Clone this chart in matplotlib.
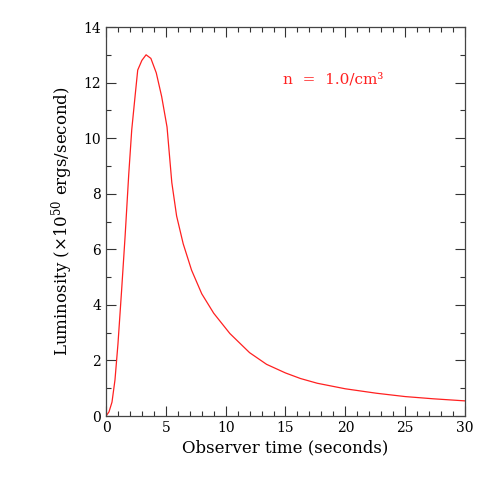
import matplotlib
matplotlib.use("Agg")
import matplotlib.pyplot as plt
from matplotlib.ticker import MultipleLocator

time_s = [0, 0.25, 0.5, 0.75, 1.0, 1.3, 1.6, 1.9, 2.15, 2.45, 2.65, 3.0, 3.35, 3.75,
          4.2, 4.65, 5.1, 5.5, 5.9, 6.45, 7.15, 8.0, 9.0, 10.35, 12.0, 13.42,
          15.0, 16.25, 17.65, 20.0, 22.6, 25.0, 27.35, 30.0]
luminosity = [0, 0.15, 0.5, 1.3, 2.6, 4.5, 6.5, 8.7, 10.3, 11.6, 12.45, 12.8, 13.0, 12.87,
              12.35, 11.5, 10.4, 8.4, 7.2, 6.2, 5.25, 4.4, 3.7, 2.97, 2.28, 1.86,
              1.55, 1.35, 1.18, 0.98, 0.82, 0.70, 0.62, 0.545]

plt.rcParams['font.family'] = ['DejaVu Serif']
plt.rcParams['mathtext.fontset'] = 'dejavuserif'

fig = plt.figure(figsize=(4.91, 4.91), dpi=100)
ax = fig.add_axes([0.2159, 0.1527, 0.947 - 0.2159, 0.945 - 0.1527])
ax.plot(time_s, luminosity, color='#ff2020', lw=0.9)
ax.set_xlim(0, 30)
ax.set_ylim(0, 14)
ax.xaxis.set_major_locator(MultipleLocator(5))
ax.xaxis.set_minor_locator(MultipleLocator(1))
ax.yaxis.set_major_locator(MultipleLocator(2))
ax.yaxis.set_minor_locator(MultipleLocator(1))
ax.tick_params(which='both', direction='in', top=True, right=True, color='#333333',
               labelsize=10, width=0.8)
ax.tick_params(which='major', length=7)
ax.tick_params(which='minor', length=3.5)
for s in ax.spines.values():
    s.set_color('#444444')
    s.set_linewidth(0.9)
ax.set_xlabel('Observer time (seconds)', fontsize=12, labelpad=3)
ax.set_ylabel(r'Luminosity ($\times10^{50}$ ergs/second)', fontsize=12, labelpad=6)
ax.text(14.8, 12.1, 'n  =  1.0/cm³', color='#ff2020', fontsize=11, va='center', ha='left')

fig.savefig('out.png', dpi=100)
